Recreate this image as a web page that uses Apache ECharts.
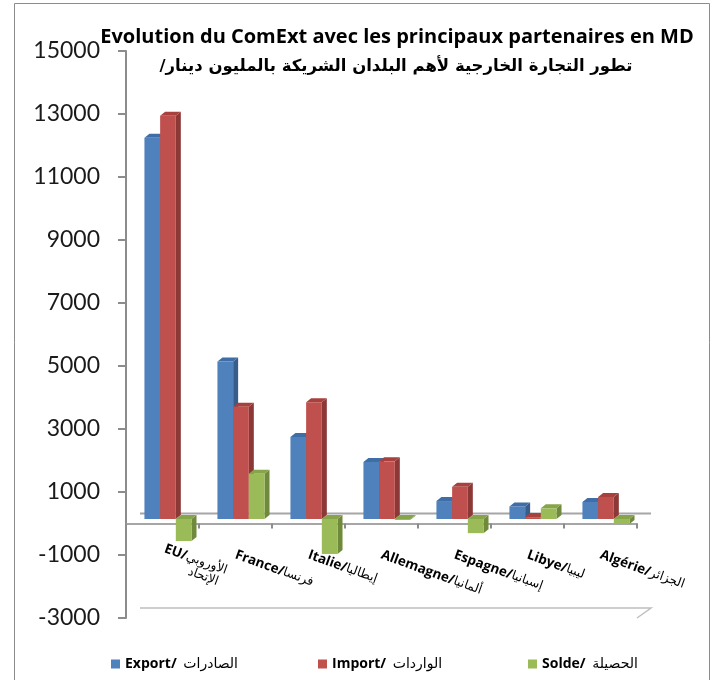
<!DOCTYPE html>
<html lang="fr">
<head>
    <meta charset="UTF-8">
    <title>Evolution du ComExt avec les principaux partenaires</title>
    <script src="https://cdn.jsdelivr.net/npm/echarts@6/dist/echarts.min.js"></script>
    <style>
        html, body { margin: 0; padding: 0; background: #fff; }
    </style>
</head>
<body>
    <div id="main" style="width: 719px; height: 680px"></div>
    <script type="text/javascript">
        // donnees (MD)
        var latinNames = ['EU', 'France', 'Italie', 'Allemagne', 'Espagne', 'Libye', 'Algérie'];
        var arabicNames = ['الإتحاد الأوروبي', 'فرنسا', 'إيطاليا', 'ألمانيا', 'إسبانيا', 'ليبيا', 'الجزائر'];
        var exportValues = [12100, 5000, 2600, 1810, 570, 400, 540];
        var importValues = [12800, 3560, 3710, 1830, 1020, 60, 700];
        var soldeValues = [-700, 1440, -1110, -20, -450, 340, -160];
        var yTicks = [-3000, -1000, 1000, 3000, 5000, 7000, 9000, 11000, 13000, 15000];

        var seriesNames = ['Export/', 'Import/', 'Solde/'];
        var seriesArabic = ['الصادرات', 'الواردات', 'الحصيلة'];
        var legendLeft = [106, 313, 523];
        var faces = [
            { front: '#4F81BD', top: '#3F6DA6', side: '#385D8A' },
            { front: '#C0504D', top: '#A8403D', side: '#8C3836' },
            { front: '#9BBB59', top: '#86A548', side: '#6F8A3A' }
        ];

        var categories = latinNames.map(function (n, i) { return n + '/' + arabicNames[i]; });

        var gridTop = 51, gridBottom = 62, chartHeight = 680;
        var yMin = yTicks[0], yMax = yTicks[yTicks.length - 1];
        // axe des categories place au niveau du zero
        var zeroOffset = -(0 - yMin) / (yMax - yMin) * (chartHeight - gridTop - gridBottom);

        function toPairs(arr) {
            return arr.map(function (v, i) { return [i, v]; });
        }

        // barre "3D" : face avant + dessus + cote
        function barRenderer(s) {
            return function (params, api) {
                var i = api.value(0), v = api.value(1);
                var base = api.coord([i, 0]);
                var tip = api.coord([i, v]);
                var band = api.size([1, 0])[0];
                var w = band * 0.215;
                var dx = 5, dy = -4;
                var x = base[0] - 1.5 * w + band * 0.075 + s * w;
                var yA = Math.min(base[1], tip[1]) - 4.5;
                var yB = Math.max(base[1], tip[1]) - 4.5;
                var c = faces[s];
                return {
                    type: 'group',
                    children: [
                        { type: 'polygon', shape: { points: [[x + w, yA], [x + w + dx, yA + dy], [x + w + dx, yB + dy], [x + w, yB]] }, style: { fill: c.side } },
                        { type: 'polygon', shape: { points: [[x, yA], [x + dx, yA + dy], [x + w + dx, yA + dy], [x + w, yA]] }, style: { fill: c.top } },
                        { type: 'rect', shape: { x: x, y: yA, width: w, height: Math.max(yB - yA, 1) }, style: { fill: c.front } }
                    ]
                };
            };
        }

        // plan du zero et plancher en arriere
        function frameRenderer(params, api) {
            var cs = params.coordSys;
            var zeroY = api.coord([0, 0])[1];
            var floorY = api.coord([0, yMin])[1];
            var dx = 14, dy = -10;
            var lineStyle = { stroke: '#A6A6A6', lineWidth: 2, fill: null };
            return {
                type: 'group',
                children: [
                    { type: 'line', shape: { x1: cs.x + dx, y1: zeroY + dy, x2: cs.x + cs.width + dx, y2: zeroY + dy }, style: lineStyle },
                    { type: 'polyline', shape: { points: [[cs.x + dx, floorY + dy], [cs.x + cs.width + dx, floorY + dy], [cs.x + cs.width, floorY]] }, style: { stroke: '#BFBFBF', lineWidth: 1.5, fill: null } }
                ]
            };
        }

        var myChart = echarts.init(document.getElementById('main'));

        var series = [{
            type: 'custom',
            silent: true,
            z: 1,
            renderItem: frameRenderer,
            data: [[0, 0]]
        }];
        [exportValues, importValues, soldeValues].forEach(function (vals, s) {
            series.push({
                name: seriesNames[s],
                type: 'custom',
                z: 3,
                itemStyle: { color: faces[s].front },
                encode: { x: 0, y: 1 },
                renderItem: barRenderer(s),
                data: toPairs(vals)
            });
        });

        // une legende par serie pour garder l'espacement de l'original
        var legends = seriesNames.map(function (name, i) {
            return {
                data: [name],
                left: legendLeft[i],
                top: 652,
                icon: 'rect',
                itemWidth: 9,
                itemHeight: 9,
                formatter: function (n) {
                    return '{b|' + n + '}  {a|' + seriesArabic[i] + '}';
                },
                textStyle: {
                    rich: {
                        b: { fontFamily: 'Open Sans', fontWeight: 'bold', fontSize: 14, color: '#000' },
                        a: { fontFamily: 'DejaVu Sans', fontSize: 14, color: '#000' }
                    }
                }
            };
        });

        var option = {
            animation: false,
            title: [{
                text: 'Evolution du ComExt avec les principaux partenaires en MD',
                left: 397,
                top: 27,
                textAlign: 'center',
                padding: 0,
                textStyle: { fontFamily: 'Open Sans', fontWeight: 'bold', fontSize: 20, color: '#000' }
            }, {
                text: 'تطور التجارة الخارجية لأهم البلدان الشريكة بالمليون دينار/\u200F',
                left: 396,
                top: 58,
                textAlign: 'center',
                padding: 0,
                textStyle: { fontFamily: 'DejaVu Sans', fontWeight: 'bold', fontSize: 16.5, color: '#000' }
            }],
            graphic: [{
                type: 'rect',
                left: 12, top: 1,
                shape: { width: 695, height: 700 },
                style: { fill: null, stroke: '#8C8C8C', lineWidth: 1 },
                silent: true
            }],
            legend: legends,
            grid: { left: 126, right: 82, top: gridTop, bottom: gridBottom, containLabel: false, outerBoundsMode: 'none' },
            xAxis: {
                type: 'category',
                data: categories,
                position: 'bottom',
                offset: zeroOffset,
                axisLine: { onZero: false, lineStyle: { color: '#A6A6A6', width: 2 } },
                axisTick: { show: true, interval: 0, alignWithLabel: false, length: 5, lineStyle: { color: '#8C8C8C', width: 2 } },
                axisLabel: {
                    interval: 0,
                    rotate: -20,
                    margin: 31,
                    formatter: function (v, i) {
                        var ar = arabicNames[i].split(' ');
                        if (ar.length > 1) {
                            return '{b|' + latinNames[i] + '/}{a|' + ar[1] + '}\n{c|' + ar[0] + '}';
                        }
                        return '{b|' + latinNames[i] + '/}{a|' + ar[0] + '}';
                    },
                    rich: {
                        b: { fontFamily: 'Open Sans', fontWeight: 'bold', fontSize: 13.5, color: '#000' },
                        a: { fontFamily: 'DejaVu Sans', fontSize: 12.5, color: '#000' },
                        c: { fontFamily: 'DejaVu Sans', fontSize: 12.5, color: '#000', padding: [0, 0, 0, 30] }
                    }
                }
            },
            yAxis: {
                type: 'value',
                min: yMin,
                max: yMax,
                splitLine: { show: false },
                axisLine: { show: true, lineStyle: { color: '#8C8C8C', width: 2 } },
                axisTick: { show: true, length: 8, customValues: yTicks, lineStyle: { color: '#8C8C8C', width: 2 } },
                axisLabel: {
                    customValues: yTicks,
                    margin: 26,
                    fontFamily: 'Lato',
                    fontSize: 23,
                    color: '#1a1a1a',
                    formatter: function (v) { return String(v); }
                }
            },
            series: series
        };
        myChart.setOption(option);
    </script>
</body>
</html>
